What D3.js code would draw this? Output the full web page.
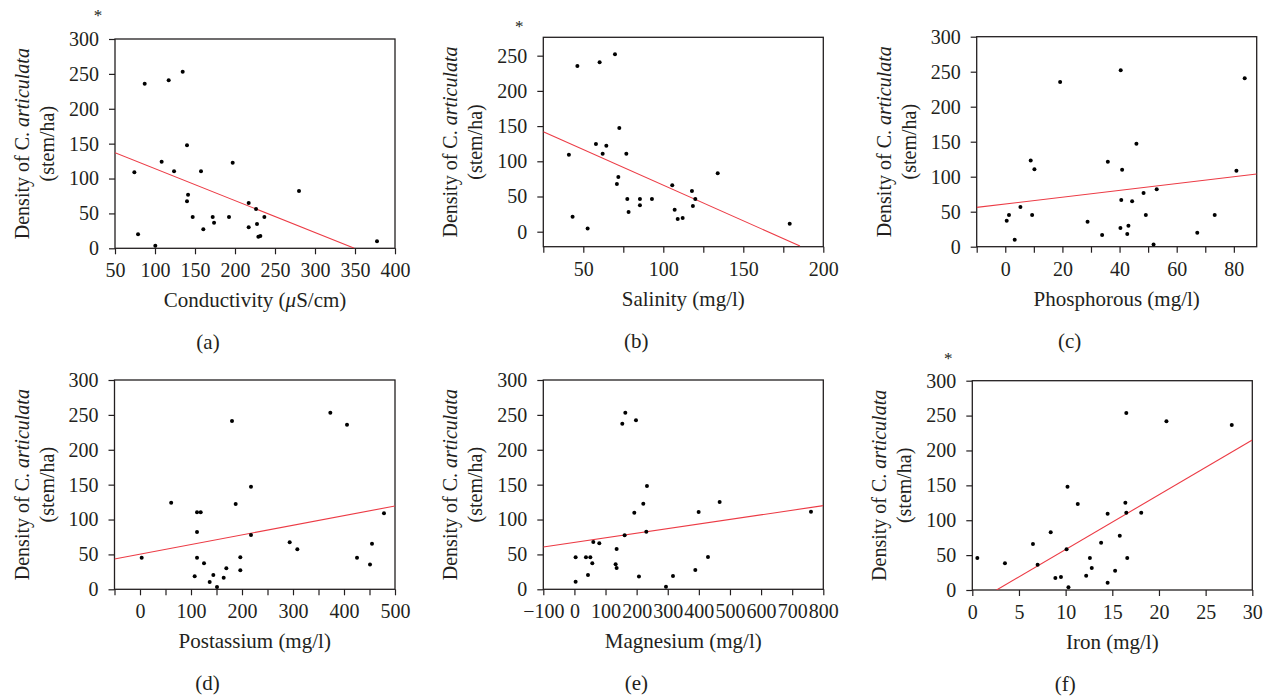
<!DOCTYPE html>
<html><head><meta charset="utf-8">
<script src="https://cdn.jsdelivr.net/npm/d3@7"></script>
<style>
body{margin:0;background:#fff;}
text{font-family:"Liberation Serif","Times New Roman",serif;fill:#231f20;}
</style></head>
<body><svg id="chart" width="1271" height="699"></svg>
<script>
// ---------- data ----------
const conductivity = [74.2,78.8,87.1,100.4,108.3,117.1,123.8,134.6,140,140,141.3,147.1,157.5,160.4,172.1,173.8,192.5,197.1,217.1,217.1,226.3,227.5,229.2,231.7,236.7,280,377.5];
const densityA     = [108.9,20.1,236,3.8,124.2,240.8,110.4,253.2,147.6,67.4,76.9,44.9,110.4,27.2,44.9,36.8,44.9,122.8,65,30.1,56.4,34.9,16.7,17.7,44.9,82.2,10];

const salinity = [41,43.3,46.3,52.7,57.9,60.2,62.1,64.4,69.8,71,71.9,72.5,76.9,77.5,78.3,85.4,85.4,92.9,105.6,107.1,109,112.1,117.9,118.5,120,134,179];
const densityB = [109.4,21.3,235.3,4.7,124.5,240.5,110.8,122.2,251.9,67.7,77.7,147.3,110.8,46.4,27.9,46.4,37.4,46.4,65.8,31.3,18,19.4,57.8,36.5,46.4,82.9,11.4];

const phosphorous = [0.5,1.3,3.3,5.3,8.9,9.4,10.2,19.2,28.8,33.9,35.9,40.4,40.3,40.6,40.9,42.7,43.1,44.4,45.9,48.4,49.2,51.9,53,67.2,73.3,80.9,83.8];
const densityC    = [37.1,45.2,10,56.7,123.3,45.2,110.5,235.2,35.7,16.7,121.4,251.9,26.7,66.7,110,18.1,30,64.8,147.1,76.7,45.2,3.3,81.9,20,45.2,108.6,240.5];

const potassium = [3.3,61.1,107.2,111.8,111.8,119,111.8,125.5,136.6,143.8,151,164.1,169.3,180.4,187.6,196.7,196.7,217.6,217.6,293.5,308.5,373.2,405.9,425.5,451,454.9,478.4];
const densityD  = [45.4,124.2,18.6,82.2,110.4,110.4,45.4,37.3,10.5,20.5,3.3,16.7,30.1,241.2,122.3,45.9,27.2,147.1,77.9,67.4,57.3,253.2,236,45.4,35.4,65.4,108.9];

const magnesium = [3.9,3.9,37.1,43.6,51.1,57.5,60.7,80,132.5,135.7,135.7,153.9,161.4,163.6,192.5,197.9,207.5,221.4,231.1,233.2,294.3,316.8,388.6,399.3,429.3,466.8,760.4];
const densityE  = [45.9,11,45.9,20.5,45.9,37.3,67.8,65.9,35.8,57.8,30.6,237.4,77.4,253.2,109.9,242.2,18.2,122.8,82.6,148.1,3.8,19.1,27.7,110.8,46.3,125.2,111.3];

const iron     = [0.54,3.5,6.5,7,8.4,8.9,9.5,10.1,10.2,10.3,11.3,12.2,12.6,12.8,13.8,14.5,14.5,15.3,15.8,16.4,16.5,16.5,16.6,18.1,20.8,27.8];
const densityF = [45.9,38.2,65.9,36.3,82.6,17.2,18.6,58.3,148.1,3.8,123.2,20.5,45.9,31.5,67.8,10.5,109.4,27.7,77.9,125.2,110.8,253.7,45.9,110.8,241.7,236.5];

// fitted regression lines: two [x, y] end points in data units
const fitA = [[50,137.1],[349.2,0]];
const fitB = [[25,142],[185.4,-20.3]];
const fitC = [[-10,56.2],[88,103.8]];
const fitD = [[-50,43.5],[500,119.4]];
const fitE = [[-100,60.7],[800,119.9]];
const fitF = [[2.6,0],[30,215]];

// axis domains and ticks
const xDomainA = [50,400], xTicksA = [50,100,150,200,250,300,350,400], xLabelsA = xTicksA;
const xDomainB = [25,200], xTicksB = [25,50,75,100,125,150,175,200], xLabelsB = [50,100,150,200];
const xDomainC = [-10,88], xTicksC = [-10,0,10,20,30,40,50,60,70,80], xLabelsC = [0,20,40,60,80];
const xDomainD = [-50,500], xTicksD = [-50,0,50,100,150,200,250,300,350,400,450,500], xLabelsD = [0,100,200,300,400,500];
const xDomainE = [-100,800], xTicksE = [-100,0,100,200,300,400,500,600,700,800], xLabelsE = xTicksE;
const xDomainF = [0,30], xTicksF = [0,5,10,15,20,25,30], xLabelsF = xTicksF;

const yDomainStd = [0,300], yTicksStd = [0,50,100,150,200,250,300];
const yDomainB = [-21.3,276.1], yTicksB = [0,50,100,150,200,250];

const xTitles = ["Conductivity (\u03bcS/cm)","Salinity (mg/l)","Phosphorous (mg/l)","Postassium (mg/l)","Magnesium (mg/l)","Iron (mg/l)"];
const panelTags = ["(a)","(b)","(c)","(d)","(e)","(f)"];
const starred = [true,true,false,false,false,true];

// ---------- layout ----------
const panels = [
  {x:conductivity,y:densityA,fit:fitA,xd:xDomainA,xt:xTicksA,xl:xLabelsA,yd:yDomainStd,yt:yTicksStd,box:[115,39,280,209.3],star:[-17,-26]},
  {x:salinity,y:densityB,fit:fitB,xd:xDomainB,xt:xTicksB,xl:xLabelsB,yd:yDomainB,yt:yTicksB,box:[543.3,37.3,280,209.4],star:[-24,-13]},
  {x:phosphorous,y:densityC,fit:fitC,xd:xDomainC,xt:xTicksC,xl:xLabelsC,yd:yDomainStd,yt:yTicksStd,box:[976.7,36.7,280,210],star:[0,0]},
  {x:potassium,y:densityD,fit:fitD,xd:xDomainD,xt:xTicksD,xl:xLabelsD,yd:yDomainStd,yt:yTicksStd,box:[114.5,380,280.5,209.3],star:[0,0]},
  {x:magnesium,y:densityE,fit:fitE,xd:xDomainE,xt:xTicksE,xl:xLabelsE,yd:yDomainStd,yt:yTicksStd,box:[543.3,380,280,209.3],star:[0,0]},
  {x:iron,y:densityF,fit:fitF,xd:xDomainF,xt:xTicksF,xl:xLabelsF,yd:yDomainStd,yt:yTicksStd,box:[972.3,380.7,280,209.3],star:[-24,-25]}
];

const svg = d3.select("#chart");
const fmt = v => v < 0 ? "\u2212" + Math.abs(v) : String(v);

panels.forEach((p,i) => {
  const [L,T,W,H] = p.box;
  const g = svg.append("g").attr("transform",`translate(${L},${T})`);
  const xs = d3.scaleLinear().domain(p.xd).range([0,W]);
  const ys = d3.scaleLinear().domain(p.yd).range([H,0]);

  const clipId = "clip"+i;
  g.append("clipPath").attr("id",clipId).append("rect").attr("width",W).attr("height",H);

  // x axis
  const xa = g.append("g").attr("transform",`translate(0,${H})`)
    .call(d3.axisBottom(xs).tickValues(p.xt).tickSize(6).tickPadding(9)
      .tickFormat(d => p.xl.includes(d) ? fmt(d) : ""));
  // y axis
  const ya = g.append("g")
    .call(d3.axisLeft(ys).tickValues(p.yt).tickSize(6).tickPadding(10).tickFormat(fmt));
  [xa,ya].forEach(a => {
    a.attr("font-family",null).attr("font-size",null);
    a.select(".domain").remove();
    a.selectAll(".tick line").attr("stroke","#231f20").attr("stroke-width",1.2);
    a.selectAll(".tick text").style("font-size","20px").attr("fill","#231f20");
  });
  // frame
  g.append("rect").attr("width",W).attr("height",H).attr("fill","none")
    .attr("stroke","#231f20").attr("stroke-width",1.3);

  // regression line
  g.append("path").attr("clip-path",`url(#${clipId})`)
    .datum(p.fit)
    .attr("d", d3.line().x(d=>xs(d[0])).y(d=>ys(d[1])))
    .attr("fill","none").attr("stroke","#ec3b45").attr("stroke-width",1.1);

  // points
  g.selectAll("circle.pt").data(p.x.map((v,k)=>[v,p.y[k]])).enter()
    .append("circle").attr("class","pt")
    .attr("cx",d=>xs(d[0])).attr("cy",d=>ys(d[1])).attr("r",2).attr("fill","#000");

  // x title
  const xt = g.append("text").attr("x",W/2).attr("y",H+59).attr("text-anchor","middle")
    .style("font-size","21px");
  if (i === 0) {
    xt.append("tspan").text("Conductivity (");
    xt.append("tspan").style("font-style","italic").text("\u03bc");
    xt.append("tspan").text("S/cm)");
  } else {
    xt.text(xTitles[i]);
  }

  // y title (two lines)
  const yt = g.append("text").attr("transform",`translate(-86,${H/2}) rotate(-90)`)
    .attr("text-anchor","middle").style("font-size","20px");
  yt.append("tspan").text("Density of C. ");
  yt.append("tspan").style("font-style","italic").text("articulata");
  g.append("text").attr("transform",`translate(-61,${H/2}) rotate(-90)`)
    .attr("text-anchor","middle").style("font-size","20px").text("(stem/ha)");

  // panel tag
  g.append("text").attr("x",93).attr("y",H+101).attr("text-anchor","middle")
    .style("font-size","21px").text(panelTags[i]);

  if (starred[i]) {
    g.append("text").attr("x",p.star[0]).attr("y",p.star[1]+8).attr("text-anchor","middle")
      .style("font-size","17px").text("*");
  }
});
</script></body></html>
